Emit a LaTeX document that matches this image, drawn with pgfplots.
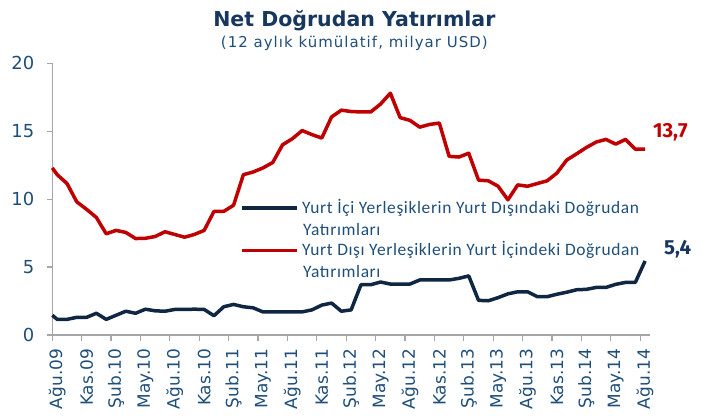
\documentclass[border=0pt]{standalone}
\usepackage{fontspec}
\setmainfont{DejaVu Sans}
\newfontfamily\carl[LetterSpace=3.5]{Carlito}
\newfontfamily\fira{Fira Sans}
\newfontfamily\subf[LetterSpace=7]{DejaVu Sans}
\usepackage{pgfplots}
\usepackage{pgfplotstable}
\pgfplotsset{compat=1.18}
\definecolor{navytext}{HTML}{1F4E79}
\definecolor{navyline}{HTML}{0F2743}
\definecolor{redline}{HTML}{C00000}
\definecolor{axisgray}{HTML}{A6A6A6}
\definecolor{titlenavy}{HTML}{17375E}

% Yurt Dışı Yerleşiklerin Yurt İçindeki Doğrudan Yatırımları (red)
\pgfplotstableread{
x y
0 12.3
0.5 11.8
1.5 11.15
2.5 9.8
3.5 9.25
4.5 8.65
5.5 7.45
6.5 7.7
7.5 7.55
8.5 7.1
9.5 7.12
10.5 7.25
11.5 7.6
12.5 7.4
13.5 7.2
14.5 7.4
15.5 7.7
16.5 9.1
17.5 9.1
18.5 9.55
19.5 11.8
20.5 12.0
21.5 12.3
22.5 12.7
23.5 14.0
24.5 14.45
25.5 15.05
26.5 14.75
27.5 14.5
28.5 16.05
29.5 16.55
30.5 16.45
31.5 16.42
32.5 16.42
33.5 17.0
34.5 17.8
35.5 16.0
36.5 15.8
37.5 15.3
38.5 15.5
39.5 15.6
40.5 13.15
41.5 13.1
42.5 13.38
43.5 11.4
44.5 11.35
45.5 10.95
46.5 9.95
47.5 11.05
48.5 10.95
49.5 11.15
50.5 11.35
51.5 11.92
52.5 12.88
53.5 13.33
54.5 13.8
55.5 14.2
56.5 14.4
57.5 14.05
58.5 14.4
59.5 13.68
60.5 13.68
}\tableRed

% Yurt İçi Yerleşiklerin Yurt Dışındaki Doğrudan Yatırımları (navy)
\pgfplotstableread{
x y
0 1.45
0.5 1.15
1.5 1.15
2.5 1.3
3.5 1.3
4.5 1.6
5.5 1.15
6.5 1.45
7.5 1.75
8.5 1.6
9.5 1.9
10.5 1.78
11.5 1.75
12.5 1.88
13.5 1.88
14.5 1.9
15.5 1.88
16.5 1.42
17.5 2.08
18.5 2.25
19.5 2.08
20.5 2.0
21.5 1.7
22.5 1.7
23.5 1.7
24.5 1.7
25.5 1.7
26.5 1.85
27.5 2.2
28.5 2.35
29.5 1.75
30.5 1.85
31.5 3.7
32.5 3.7
33.5 3.9
34.5 3.75
35.5 3.75
36.5 3.75
37.5 4.05
38.5 4.05
39.5 4.05
40.5 4.05
41.5 4.17
42.5 4.35
43.5 2.55
44.5 2.52
45.5 2.75
46.5 3.03
47.5 3.18
48.5 3.18
49.5 2.82
50.5 2.82
51.5 3.0
52.5 3.15
53.5 3.33
54.5 3.36
55.5 3.5
56.5 3.5
57.5 3.73
58.5 3.87
59.5 3.87
60.5 5.45
}\tableNavy

\begin{document}
\begin{tikzpicture}
\useasboundingbox (-52.3bp,-82bp) rectangle (659.7bp,335bp);
\begin{axis}[
  at={(0,0)}, anchor=south west,
  scale only axis, width=597.7bp, height=271.7bp,
  xmin=0, xmax=61, ymin=0, ymax=20,
  axis lines*=left,
  axis line style={draw=axisgray, line width=1.2bp},
  clip=false,
  ytick={0,5,10,15,20},
  xtick={0,3,...,60},
  xticklabels={Ağu.09,Kas.09,Şub.10,May.10,Ağu.10,Kas.10,Şub.11,May.11,Ağu.11,Kas.11,Şub.12,May.12,Ağu.12,Kas.12,Şub.13,May.13,Ağu.13,Kas.13,Şub.14,May.14,Ağu.14},
  tick align=outside,
  major tick length=5.5bp,
  tick style={draw=axisgray, line width=1.2bp},
  /pgf/number format/assume math mode=true,
  yticklabel style={font=\fontsize{18}{18}\selectfont, text=navytext, xshift=-9bp},
  xticklabel style={font=\fontsize{17}{17}\selectfont, text=navytext, xshift=4.9bp, yshift=-5bp, rotate=90, anchor=east},
  legend style={at={(axis cs:19.2,10.03)}, anchor=north west, draw=none, fill=none, inner sep=0pt,
    row sep=26.5bp, cells={anchor=base west},
    nodes={inner sep=0pt, text=navytext, font=\carl\fontsize{17.5}{17.5}\selectfont},
    /tikz/every odd column/.append style={column sep=3bp}},
  legend image code/.code={\draw[#1] (0bp,5bp) -- (55bp,5bp);},
]
\addplot[navyline, line width=3.5bp, line join=round] table[x=x,y=y] {\tableNavy};
\addlegendentry{\rule[-4bp]{0pt}{12bp}Yurt İçi Yerleşiklerin Yurt Dışındaki Doğrudan}
\addplot[redline, line width=3.5bp, line join=round] table[x=x,y=y] {\tableRed};
\addlegendentry{\rule[-4bp]{0pt}{12bp}Yurt Dışı Yerleşiklerin Yurt İçindeki Doğrudan}

\node[anchor=base west, inner sep=0pt, text=navytext, font=\carl\fontsize{17.5}{17.5}\selectfont] at (axis cs:25.59,7.31) {Yatırımları};
\node[anchor=base west, inner sep=0pt, text=navytext, font=\carl\fontsize{17.5}{17.5}\selectfont] at (axis cs:25.59,4.22) {Yatırımları};

\node[anchor=base west, inner sep=0pt, text=redline, font=\fira\bfseries\fontsize{20.5}{20.5}\selectfont] at (axis cs:61.3,14.55) {13,7};
\node[anchor=base west, inner sep=0pt, text=titlenavy, font=\fira\bfseries\fontsize{20.5}{20.5}\selectfont] at (axis cs:62.43,5.96) {5,4};
\node[anchor=base, text=titlenavy, font=\bfseries\fontsize{20.6}{20.6}\selectfont] at (rel axis cs:0.5053,1.1347) {Net Doğrudan Yatırımlar};
\node[anchor=base, text=navytext, font=\subf\fontsize{15}{15}\selectfont] at (rel axis cs:0.5053,1.0575) {(12 aylık kümülatif, milyar USD)};
\end{axis}
\end{tikzpicture}
\end{document}
